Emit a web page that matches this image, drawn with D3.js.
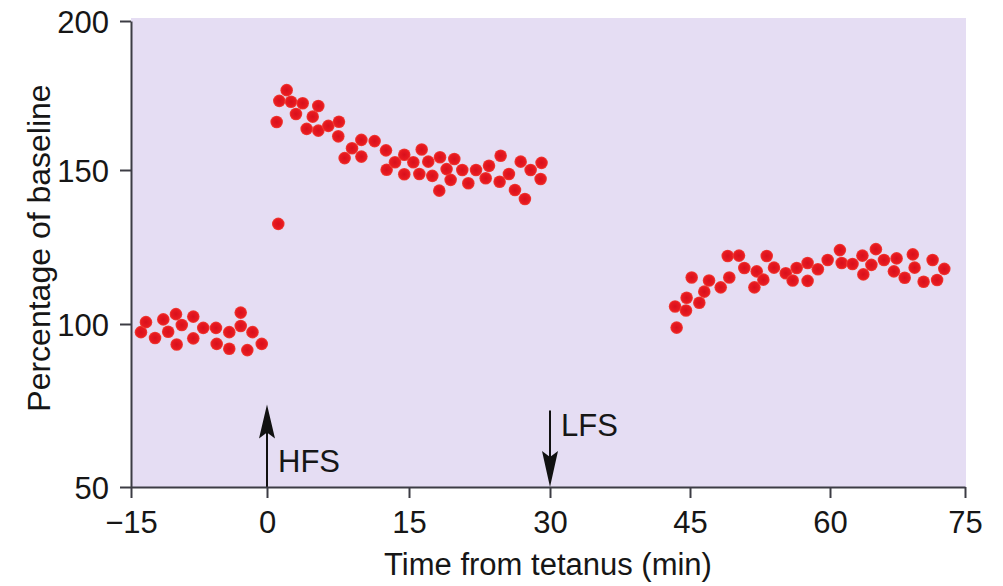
<!DOCTYPE html>
<html>
<head>
<meta charset="utf-8">
<script src="https://cdn.jsdelivr.net/npm/d3@7"></script>
<style>
  html, body { margin: 0; padding: 0; background: #ffffff; }
  svg { display: block; font-family: "Liberation Sans", Arial, Helvetica, sans-serif; }
  .axis path, .axis line { stroke: #3c3c44; stroke-width: 2; }
  .axis text { font-size: 31px; fill: #161616; }
</style>
</head>
<body>
<svg id="chart" width="1003" height="586"></svg>
<script>
// [minutes from tetanus, % of baseline]
const baselinePoints = [
  [-13.9, 97.5], [-13.35, 100.6], [-12.35, 95.7], [-11.44, 101.5], [-10.9, 97.6],
  [-10.04, 103.2], [-9.96, 93.7], [-9.4, 99.7], [-8.13, 102.4], [-8.13, 95.6],
  [-7.03, 98.8], [-5.63, 98.8], [-5.55, 93.9], [-4.16, 97.5], [-4.16, 92.4],
  [-2.9, 103.7], [-2.9, 99.4], [-2.17, 92.0], [-1.6, 97.5], [-0.58, 93.9]
];

const afterHfsPoints = [
  [1.19, 132.5], [1.02, 166.1], [1.3, 173.2], [2.08, 176.8], [2.54, 172.9],
  [3.06, 168.8], [3.77, 172.4], [4.19, 163.8], [4.83, 167.9], [5.42, 171.5],
  [5.42, 163.2], [6.48, 164.8], [7.6, 166.2], [7.53, 161.3], [8.2, 154.0],
  [8.98, 157.3], [9.97, 160.1], [9.97, 154.5], [11.37, 159.7], [12.57, 156.6],
  [12.64, 150.1], [13.52, 152.6], [14.5, 155.1], [14.5, 148.6], [15.46, 152.6],
  [16.1, 148.7], [16.35, 156.9], [17.05, 152.8], [17.48, 148.1], [18.22, 143.3],
  [18.3, 154.3], [19.0, 150.3], [19.43, 146.8], [19.82, 153.7], [20.67, 150.0],
  [21.31, 145.7], [22.13, 150.0], [23.16, 147.3], [23.51, 151.4], [24.64, 146.2],
  [24.75, 154.8], [25.63, 148.7], [26.27, 143.5], [26.88, 152.8], [27.33, 140.6],
  [27.94, 150.0], [29.0, 147.1], [29.1, 152.4]
];

const afterLfsPoints = [
  [43.57, 98.9], [43.4, 105.7], [44.57, 104.4], [44.64, 108.5], [45.18, 115.1],
  [46.0, 106.9], [46.53, 110.5], [47.04, 114.1], [48.29, 111.9], [49.04, 122.1],
  [49.21, 115.1], [50.25, 122.2], [50.82, 118.2], [51.9, 111.9], [52.15, 117.1],
  [52.86, 114.4], [53.22, 122.1], [54.0, 118.3], [55.26, 116.5], [56.0, 114.1],
  [56.43, 118.2], [57.6, 119.8], [57.6, 114.0], [58.7, 117.8], [59.75, 120.8],
  [61.1, 124.0], [61.3, 119.8], [62.5, 119.5], [63.6, 122.2], [63.7, 116.1],
  [64.6, 119.2], [65.1, 124.3], [66.0, 120.8], [67.1, 117.1], [67.4, 121.3],
  [68.3, 115.0], [69.2, 122.6], [69.4, 118.3], [70.4, 113.7], [71.4, 120.8],
  [71.9, 114.3], [72.7, 117.9]
];

const xTicks = [-15, 0, 15, 30, 45, 60, 75];
const yTicks = [50, 100, 150, 200];

// stimulus markers: [time, label, direction]
const stimuli = [
  { time: 0, label: "HFS", dir: "up" },
  { time: 30, label: "LFS", dir: "down" }
];

const svg = d3.select("#chart");

// the printed figure is slightly warped, so ticks are pinned one by one
const x = d3.scaleLinear()
  .domain(xTicks)
  .range([131, 267, 409, 550, 690, 830, 965]);

const y = d3.scaleLinear()
  .domain(yTicks)
  .range([487, 324, 170, 21]);

// lavender panel
svg.append("rect")
  .attr("x", x(-15))
  .attr("y", 18)
  .attr("width", x(75) - x(-15) + 1)
  .attr("height", y(50) - 18)
  .attr("fill", "#e5ddf3");

// stimulus arrows
const arrowTop = { up: y(75.3), down: y(73.5) };
stimuli.forEach((s) => {
  const cx = x(s.time);
  const bottom = y(50);
  const top = arrowTop[s.dir];
  svg.append("line")
    .attr("x1", cx).attr("x2", cx)
    .attr("y1", s.dir === "up" ? top + 10 : top)
    .attr("y2", s.dir === "up" ? bottom : bottom - 10)
    .attr("stroke", "#111")
    .attr("stroke-width", 2);
  const head = s.dir === "up"
    ? `M${cx},${top} L${cx - 8},${top + 34} L${cx},${top + 28} L${cx + 8},${top + 34} Z`
    : `M${cx},${bottom} L${cx - 8},${bottom - 36} L${cx},${bottom - 30} L${cx + 8},${bottom - 36} Z`;
  svg.append("path").attr("d", head).attr("fill", "#111");
  svg.append("text")
    .attr("x", cx + 11)
    .attr("y", s.dir === "up" ? y(54.5) : y(65.5))
    .attr("font-size", 31)
    .attr("fill", "#161616")
    .text(s.label);
});

// axes
svg.append("g")
  .attr("class", "axis")
  .attr("transform", `translate(0,${y(50)})`)
  .call(d3.axisBottom(x).tickValues(xTicks).tickSize(11).tickSizeOuter(0).tickPadding(13));

svg.append("g")
  .attr("class", "axis")
  .attr("transform", `translate(${x(-15)},0)`)
  .call(d3.axisLeft(y).tickValues(yTicks).tickSize(11).tickSizeOuter(0).tickPadding(11))
  .selectAll("text")
  .attr("dy", "0.36em");

svg.selectAll(".axis .domain").attr("stroke-width", 2);

// axis titles
svg.append("text")
  .attr("x", 548)
  .attr("y", 575)
  .attr("text-anchor", "middle")
  .attr("font-size", 31)
  .attr("fill", "#161616")
  .text("Time from tetanus (min)");

svg.append("text")
  .attr("transform", "rotate(-90)")
  .attr("x", -248)
  .attr("y", 50)
  .attr("text-anchor", "middle")
  .attr("font-size", 32)
  .attr("fill", "#161616")
  .text("Percentage of baseline");

// points
const allPoints = baselinePoints.concat(afterHfsPoints, afterLfsPoints);

const grad = svg.append("defs").append("radialGradient").attr("id", "dotFill");
grad.append("stop").attr("offset", "0%").attr("stop-color", "#d8101c");
grad.append("stop").attr("offset", "75%").attr("stop-color", "#e81a20");
grad.append("stop").attr("offset", "100%").attr("stop-color", "#f0443a");

svg.append("g")
  .selectAll("circle")
  .data(allPoints)
  .join("circle")
  .attr("cx", (d) => x(d[0]))
  .attr("cy", (d) => y(d[1]))
  .attr("r", 6.3)
  .attr("fill", "url(#dotFill)");
</script>
</body>
</html>
